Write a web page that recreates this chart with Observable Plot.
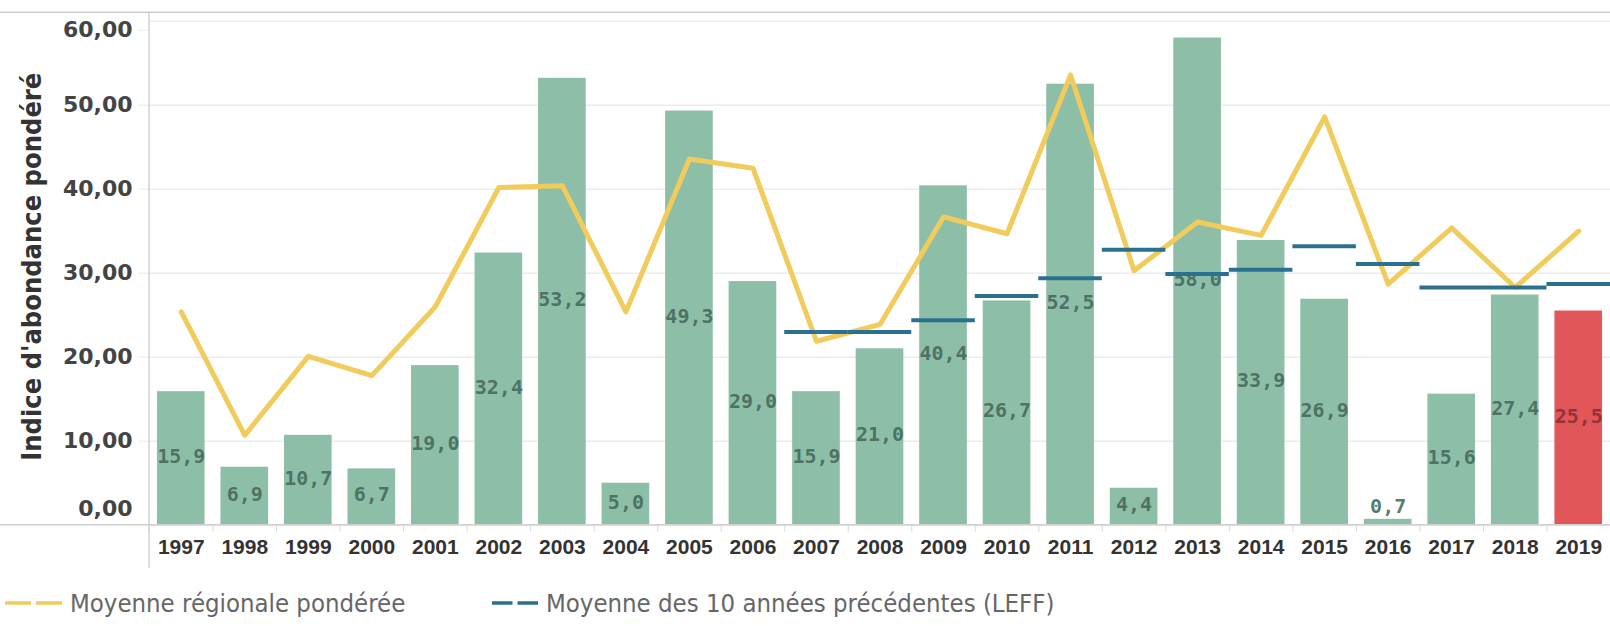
<!DOCTYPE html>
<html>
<head>
<meta charset="utf-8">
<script src="https://cdn.jsdelivr.net/npm/d3@7"></script>
<script src="https://cdn.jsdelivr.net/npm/@observablehq/plot@0.6"></script>
<style>
  html, body { margin: 0; padding: 0; background: #fff; }
  #chart svg { display: block; overflow: visible; }
  #legend { position: relative; height: 46px; width: 1610px; font-family: "DejaVu Sans Condensed", "DejaVu Sans", sans-serif; font-size: 25.5px; color: #666; }
  .item { position: absolute; top: 0; height: 46px; display: flex; align-items: center; }
  .item svg { display: block; }
  .item span { margin-left: 8px; }
</style>
</head>
<body>
<div id="chart"></div>
<div id="legend"></div>
<script>
// ---- data ----
const years = ["1997","1998","1999","2000","2001","2002","2003","2004","2005","2006","2007","2008","2009","2010","2011","2012","2013","2014","2015","2016","2017","2018","2019"];
const indexValues = [15.9, 6.9, 10.7, 6.7, 19.0, 32.4, 53.2, 5.0, 49.3, 29.0, 15.9, 21.0, 40.4, 26.7, 52.5, 4.4, 58.0, 33.9, 26.9, 0.7, 15.6, 27.4, 25.5];
const regionalMean = [25.4, 10.7, 20.1, 17.8, 26.0, 40.2, 40.4, 25.4, 43.6, 42.5, 21.9, 23.9, 36.7, 34.7, 53.6, 30.3, 36.1, 34.5, 48.6, 28.7, 35.4, 28.3, 35.0];
const leffYears = ["2007","2008","2009","2010","2011","2012","2013","2014","2015","2016","2017","2018","2019"];
const leffMean = [23.0, 23.0, 24.4, 27.3, 29.4, 32.8, 29.9, 30.4, 33.2, 31.1, 28.3, 28.3, 28.7];
const highlightYear = "2019";
const yTicks = [0, 10, 20, 30, 40, 50, 60];
const yTitle = "Indice d'abondance pondéré";
const legendLabels = ["Moyenne régionale pondérée", "Moyenne des 10 années précédentes (LEFF)"];

// ---- tables built from the arrays ----
const rows = years.map((year, i) => ({year, value: indexValues[i], regional: regionalMean[i]}));
const leffRows = leffYears.map((year, i) => ({year, leff: leffMean[i]}));

const W = 1610, H = 580;
const mL = 149, mR = 0, mT = 20.7, mB = H - 524.7;
const step = (W - mL - mR) / years.length;
const comma = v => v.toFixed(1).replace(".", ",");
const comma2 = v => v.toFixed(2).replace(".", ",");

const GREEN = "#8dbea7", RED = "#e15659", YELLOW = "#f1cb5b", BLUE = "#2a7091";

const plot = Plot.plot({
  width: W,
  height: H,
  marginLeft: mL,
  marginRight: mR,
  marginTop: mT,
  marginBottom: mB,
  style: {fontFamily: "DejaVu Sans, sans-serif", background: "#fff", overflow: "visible"},
  x: {type: "band", domain: years, paddingInner: 0.25, paddingOuter: 0.125, align: 0.5, round: false, axis: null},
  y: {domain: [0, 60], axis: null},
  marks: [
    Plot.gridY(yTicks, {stroke: "#ececec", strokeOpacity: 1, strokeWidth: 1.5}),
    // y axis: ticks + labels
    Plot.axisY(yTicks.slice(1, -1), {anchor: "left", tickSize: 11, tickPadding: 6, tickFormat: comma2,
      stroke: "#ececec", fill: "#444", fontSize: 22, fontWeight: "bold", fontFamily: "DejaVu Sans", label: null}),
    Plot.axisY([yTicks[yTicks.length - 1]], {anchor: "left", tickSize: 11, tickPadding: 6, tickFormat: comma2, dy: 9,
      stroke: "#ececec", fill: "#444", fontSize: 22, fontWeight: "bold", fontFamily: "DejaVu Sans", label: null}),
    Plot.axisY([yTicks[0]], {anchor: "left", tickSize: 0, tickPadding: 17, tickFormat: comma2, dy: -16.5,
      fill: "#444", fontSize: 22, fontWeight: "bold", fontFamily: "DejaVu Sans", label: null}),
    // y title
    Plot.text([yTitle], {frameAnchor: "left", textAnchor: "middle", lineAnchor: "middle", rotate: -90, dx: -117, dy: -6.5, fill: "#333",
      fontSize: 27, fontWeight: "bold", fontFamily: "DejaVu Sans Condensed, DejaVu Sans, sans-serif"}),
    // x axis: labels and band separators
    Plot.axisX(years, {anchor: "bottom", tickSize: 0, tickPadding: 14, fill: "#333", fontSize: 21, fontWeight: "bold",
      fontFamily: "Liberation Sans, Arial, sans-serif", label: null}),
    Plot.axisX(years, {anchor: "bottom", tickSize: 7, tickFormat: () => "", dx: -step / 2, stroke: "#d8d8d8", label: null}),
    // bars
    Plot.barY(rows, {x: "year", y: "value", fill: d => d.year === highlightYear ? RED : GREEN}),
    Plot.text(rows, {x: "year", y: d => Math.max(d.value / 2, 2), text: d => comma(d.value), dy: -2,
      fill: d => d.year === highlightYear ? "#8a2d30" : "#45695b", fontSize: 20, fontWeight: "bold",
      fontFamily: "DejaVu Sans Mono, monospace", fillOpacity: 0.9}),
    // regional mean line
    Plot.line(rows, {x: "year", y: "regional", stroke: YELLOW, strokeWidth: 5, strokeLinejoin: "round", strokeLinecap: "round"}),
    // LEFF segments
    Plot.tickY(leffRows, {x: "year", y: "leff", stroke: BLUE, strokeWidth: 4, insetLeft: -(step * 0.125), insetRight: -(step * 0.125)})
  ]
});

// frame lines (decoration) using the plot's own scales
const ys = plot.scale("y");
const y0 = ys.apply(0);
const svg = d3.select(plot);
svg.append("line").attr("x1", 0).attr("x2", W).attr("y1", 12.3).attr("y2", 12.3).attr("stroke", "#cbcbcb").attr("stroke-width", 1.5);
svg.append("line").attr("x1", 0).attr("x2", W).attr("y1", y0).attr("y2", y0).attr("stroke", "#cfcfcf").attr("stroke-width", 1.5);
svg.append("line").attr("x1", mL).attr("x2", mL).attr("y1", 12.3).attr("y2", 568).attr("stroke", "#d2d2d2").attr("stroke-width", 1.5);

document.getElementById("chart").appendChild(plot);

// legend
const legend = document.getElementById("legend");
const items = [
  {label: legendLabels[0], color: YELLOW, left: 5, width: 57},
  {label: legendLabels[1], color: BLUE, left: 492, width: 46}
];
for (const it of items) {
  const div = document.createElement("div");
  div.className = "item";
  div.style.left = it.left + "px";
  div.innerHTML = `<svg width="${it.width}" height="8"><line x1="0" x2="${it.width}" y1="4" y2="4" stroke="${it.color}" stroke-width="3.5" stroke-dasharray="${(it.width - 5) / 2} 5"/></svg><span>${it.label}</span>`;
  legend.appendChild(div);
}
</script>
</body>
</html>
